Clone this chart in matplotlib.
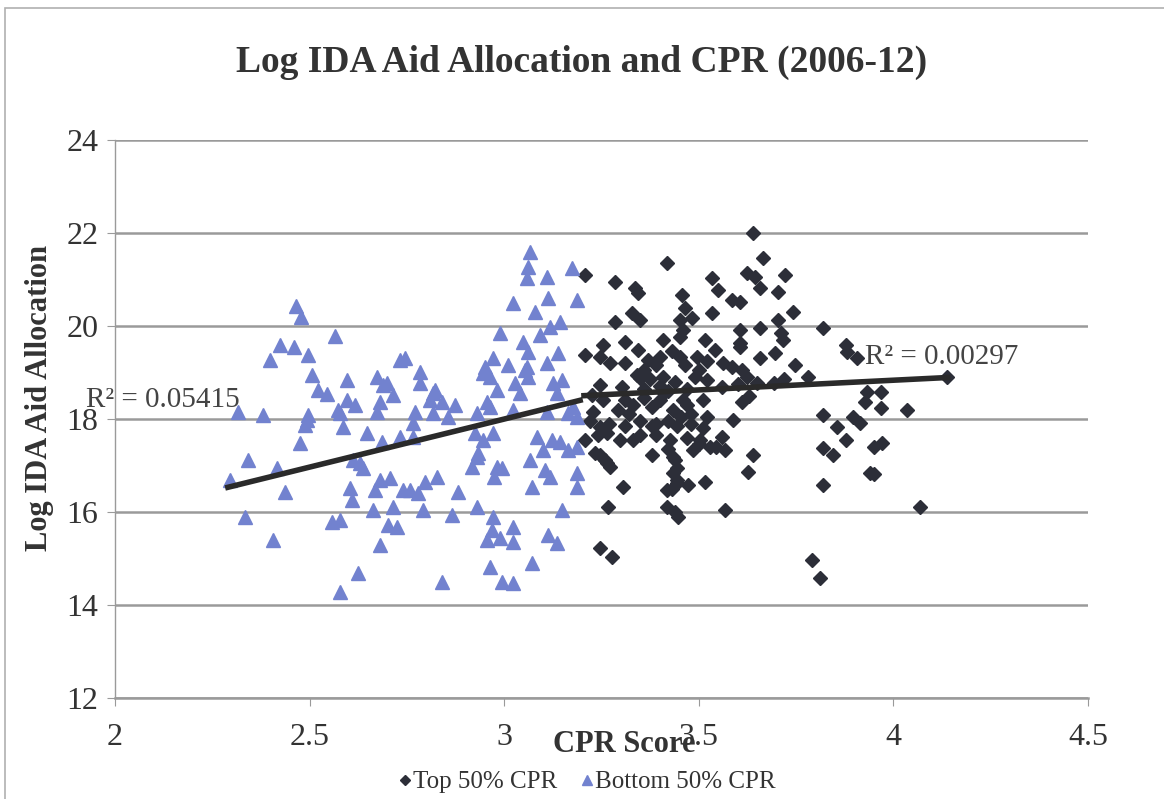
import matplotlib.pyplot as plt
from matplotlib.patches import Rectangle

# Bottom 50% CPR (triangles) - CPR score, log IDA allocation
bottom_cpr = [2.465, 2.478, 2.566, 2.424, 2.460, 2.496, 2.398, 2.506, 2.596, 2.674,
              2.522, 2.545, 2.596, 2.617, 2.689, 2.681, 2.715, 2.573, 2.316, 2.380,
              2.496, 2.674, 2.733, 2.494, 2.476, 2.342, 2.296, 2.416, 2.437, 2.334,
              2.406, 2.558, 2.578, 2.625, 2.578, 2.578, 2.586, 2.648, 2.686, 2.612,
              2.638, 2.681, 2.707, 2.604, 2.609, 2.668, 2.663, 2.715, 2.702, 2.725,
              2.681, 2.699, 2.733, 2.740, 2.630, 2.488, 3.067, 3.062, 3.059, 3.111,
              3.175, 3.188, 3.113, 3.023, 3.080, 2.990, 3.144, 3.118, 3.093, 3.049,
              3.062, 2.746, 2.784, 2.784, 2.951, 2.972, 3.010, 3.059, 3.111, 3.139,
              2.946, 2.964, 3.062, 2.823, 2.810, 2.841, 2.874, 2.982, 3.028, 3.041,
              3.126, 3.136, 2.771, 2.766, 2.817, 2.856, 2.931, 2.956, 3.165, 2.766,
              2.925, 2.933, 2.918, 2.982, 3.067, 3.100, 3.085, 3.144, 3.165, 3.105,
              3.118, 3.072, 3.188, 3.188, 2.828, 2.797, 2.758, 2.779, 2.882, 2.792,
              2.866, 2.931, 2.972, 2.969, 2.956, 2.990, 3.023, 3.023, 3.149, 3.113,
              3.136, 2.964, 3.072, 2.841, 2.995, 3.023, 3.188, 3.188, 3.149, 3.177,
              2.946, 2.972, 2.931, 2.975, 2.995, 3.123, 3.023, 3.111, 2.964, 2.817,
              3.054]
bottom_aid = [20.43, 20.19, 19.78, 19.59, 19.55, 19.38, 19.27, 18.95, 18.84, 18.90,
              18.62, 18.54, 18.41, 18.30, 18.73, 18.37, 18.52, 18.19, 18.15, 18.09,
              18.09, 18.15, 19.27, 17.98, 17.48, 17.12, 16.69, 16.95, 16.43, 15.89,
              15.40, 15.78, 15.83, 14.69, 14.28, 18.13, 17.83, 17.70, 17.51, 17.12,
              16.95, 16.69, 16.73, 16.52, 16.26, 16.47, 16.04, 16.11, 15.72, 15.68,
              15.29, 18.77, 17.61, 16.47, 17.05, 17.87, 21.59, 21.27, 21.03, 21.05,
              21.25, 20.56, 20.60, 20.49, 20.30, 19.85, 20.09, 19.98, 19.81, 19.66,
              19.44, 19.31, 19.01, 18.77, 19.12, 19.31, 19.16, 19.12, 19.20, 19.42,
              18.99, 18.90, 18.90, 18.62, 18.41, 18.37, 18.30, 18.62, 18.77, 18.56,
              18.77, 18.56, 18.15, 17.91, 18.13, 18.04, 18.13, 18.37, 18.13, 17.61,
              17.70, 17.27, 16.97, 16.97, 17.12, 17.33, 17.61, 17.51, 17.33, 16.90,
              16.75, 16.54, 16.84, 16.54, 16.75, 16.65, 16.47, 16.41, 16.43, 16.04,
              15.94, 16.11, 15.89, 15.61, 15.40, 15.44, 15.68, 15.35, 16.04, 15.51,
              15.33, 14.82, 14.90, 14.49, 14.49, 14.47, 18.04, 17.40, 18.84, 18.26,
              17.55, 17.70, 17.18, 16.75, 16.95, 17.55, 18.19, 18.15, 18.26, 18.56,
              19.05]

# Top 50% CPR (diamonds)
top_cpr = [3.638, 3.419, 3.208, 3.285, 3.337, 3.344, 3.535, 3.550, 3.625, 3.645,
           3.666, 3.722, 3.704, 3.658, 3.586, 3.607, 3.458, 3.465, 3.483, 3.452,
           3.460, 3.452, 3.285, 3.329, 3.350, 3.535, 3.607, 3.607, 3.658, 3.704,
           3.743, 3.710, 3.717, 3.254, 3.311, 3.409, 3.517, 3.607, 3.658, 3.697,
           3.748, 3.208, 3.247, 3.272, 3.311, 3.344, 3.370, 3.390, 3.401, 3.430,
           3.452, 3.465, 3.496, 3.520, 3.542, 3.563, 3.586, 3.610, 3.625, 3.247,
           3.303, 3.350, 3.375, 3.409, 3.440, 3.490, 3.522, 3.560, 3.600, 3.650,
           3.692, 3.720, 3.226, 3.254, 3.310, 3.360, 3.400, 3.460, 3.510, 3.612,
           3.630, 3.229, 3.293, 3.320, 3.380, 3.434, 3.480, 3.522, 3.589, 3.220,
           3.247, 3.270, 3.310, 3.350, 3.390, 3.420, 3.445, 3.480, 3.510, 3.208,
           3.240, 3.265, 3.298, 3.330, 3.350, 3.390, 3.427, 3.470, 3.504, 3.545,
           3.560, 3.568, 3.234, 3.260, 3.272, 3.380, 3.420, 3.440, 3.486, 3.500,
           3.640, 3.627, 3.434, 3.445, 3.430, 3.473, 3.517, 3.306, 3.267, 3.419,
           3.440, 3.447, 3.568, 3.247, 3.278, 3.790, 3.818, 3.877, 3.882, 3.907,
           3.781, 4.139, 3.933, 3.967, 3.928, 3.967, 4.036, 3.818, 3.895, 3.915,
           3.856, 3.877, 3.818, 3.846, 3.949, 3.972, 3.941, 3.950, 3.818, 4.069,
           3.812, 3.530, 3.419, 3.445, 3.434, 3.445, 3.247, 3.265, 3.360, 3.400,
           3.330, 3.470, 3.380, 3.420, 3.455, 3.500, 3.340, 3.360, 3.410, 3.470]
top_aid = [22.00, 21.35, 21.10, 20.95, 20.82, 20.71, 21.03, 20.77, 21.14, 21.05,
           21.46, 21.10, 20.73, 20.82, 20.56, 20.52, 20.67, 20.39, 20.17, 20.13,
           19.91, 19.76, 20.09, 20.28, 20.13, 20.28, 19.91, 19.63, 19.96, 20.13,
           20.30, 19.85, 19.70, 19.59, 19.66, 19.70, 19.70, 19.55, 19.31, 19.42,
           19.16, 19.38, 19.33, 19.20, 19.20, 19.48, 19.27, 19.15, 19.33, 19.45,
           19.33, 19.15, 19.33, 19.25, 19.48, 19.20, 19.12, 19.05, 18.90, 18.73,
           18.69, 18.88, 18.85, 18.90, 18.80, 18.90, 18.84, 18.69, 18.75, 18.77,
           18.77, 18.85, 18.52, 18.41, 18.40, 18.45, 18.40, 18.40, 18.40, 18.37,
           18.50, 18.15, 18.19, 18.10, 18.25, 18.19, 18.10, 18.04, 17.98, 17.95,
           17.83, 17.90, 17.85, 17.95, 17.90, 17.95, 17.85, 17.90, 17.80, 17.55,
           17.65, 17.70, 17.55, 17.55, 17.65, 17.65, 17.55, 17.60, 17.55, 17.40,
           17.61, 17.33, 17.27, 17.12, 16.97, 17.23, 17.35, 17.12, 17.33, 17.45,
           17.23, 16.86, 16.84, 16.62, 16.50, 16.58, 16.65, 16.54, 16.11, 16.11,
           16.00, 15.90, 16.04, 15.23, 15.03, 14.97, 19.96, 19.59, 19.44, 19.31,
           18.90, 18.90, 18.58, 18.58, 18.37, 18.24, 18.19, 18.09, 18.04, 17.91,
           17.83, 17.55, 17.38, 17.23, 17.40, 17.48, 16.84, 16.82, 16.58, 16.11,
           14.58, 17.40, 16.47, 16.69, 17.18, 16.95, 17.23, 17.05, 18.65, 18.70,
           18.30, 18.30, 17.85, 18.60, 18.05, 19.05, 18.95, 19.05, 18.55, 18.65]

# Linear trendlines as drawn on the chart
bottom_trend_x = [2.29, 3.195]
bottom_trend_y = [16.53, 18.40]
top_trend_x = [3.205, 4.139]
top_trend_y = [18.50, 18.89]

plt.rcParams['font.family'] = ['Liberation Serif', 'DejaVu Serif']

fig = plt.figure(figsize=(11.64, 7.99), dpi=100)
fig.patches.append(Rectangle((0.0045, -0.05), 1.2, 1.04, transform=fig.transFigure,
                             fill=False, edgecolor='#b0b0b0', linewidth=1.2))
ax = fig.add_axes([0.0988, 0.1264, 0.8359, 0.6986])

tri_color = '#7282cf'
dia_color = '#2c2e38'
ax.plot(top_cpr, top_aid, linestyle='none', marker='D', markersize=7,
        color=dia_color, label='Top 50% CPR', zorder=3)
ax.plot(bottom_cpr, bottom_aid, linestyle='none', marker='^', markersize=10,
        color=tri_color, label='Bottom 50% CPR', zorder=3)
ax.plot(bottom_trend_x, bottom_trend_y, color='#2a2a2a', linewidth=4, zorder=4)
ax.plot(top_trend_x, top_trend_y, color='#2a2a2a', linewidth=4, zorder=4)

ax.set_xlim(2, 4.5)
ax.set_ylim(12, 24)
ax.set_xticks([2, 2.5, 3, 3.5, 4, 4.5])
ax.set_xticklabels(['2', '2.5', '3', '3.5', '4', '4.5'])
ax.set_yticks([12, 14, 16, 18, 20, 22, 24])
ax.grid(axis='y', color='#9a9a9a', linewidth=1.8)
ax.set_axisbelow(True)
for s in ['top', 'right']:
    ax.spines[s].set_visible(False)
ax.spines['bottom'].set_color('#9a9a9a')
ax.spines['bottom'].set_linewidth(1.8)
ax.spines['left'].set_color('#9a9a9a')
ax.spines['left'].set_linewidth(1.0)
ax.tick_params(axis='x', labelsize=23, colors='#333333', pad=12, length=6)
ax.tick_params(axis='y', labelsize=23, colors='#333333', pad=6, length=6)
ax.tick_params(axis='x', color='#9a9a9a')
ax.tick_params(axis='y', color='#9a9a9a')

ax.text(1.925, 18.4, 'R² = 0.05415', fontsize=21, color='#444444', va='center')
ax.text(3.928, 19.33, 'R² = 0.00297', fontsize=21, color='#444444', va='center')

fig.text(0.5, 0.922, 'Log IDA Aid Allocation and CPR (2006-12)', ha='center', va='center',
         fontsize=27, fontweight='bold', color='#333333')
fig.text(0.034, 0.502, 'Log IDA Aid Allocation', rotation=90, ha='center', va='center',
         fontsize=22, fontweight='bold', color='#333333')
fig.text(0.536, 0.068, 'CPR Score', ha='center', va='center',
         fontsize=22, fontweight='bold', color='#333333')

leg = fig.legend(loc='center', bbox_to_anchor=(0.505, 0.021), ncol=2, frameon=False,
                 fontsize=18, handlelength=0.4, handletextpad=0.1, columnspacing=1.0,
                 markerscale=0.75, labelcolor='#333333')

fig.savefig('out.png', dpi=100)
